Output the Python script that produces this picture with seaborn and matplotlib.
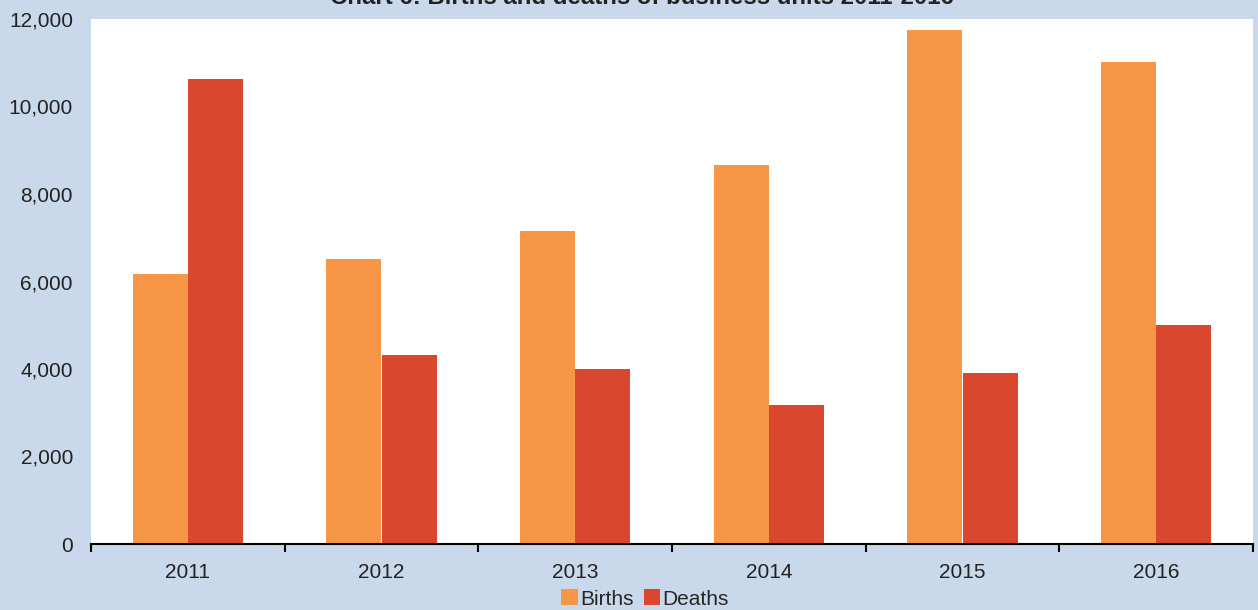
import matplotlib.pyplot as plt
import numpy as np
import pandas as pd
import seaborn as sns

years = ["2011", "2012", "2013", "2014", "2015", "2016"]
births = [6170, 6510, 7150, 8660, 11750, 11020]
deaths = [10630, 4320, 4000, 3180, 3910, 5010]

BG = "#C9D8EA"


def main():
    sns.set_style("white")
    plt.rcParams["font.family"] = ["Liberation Sans", "DejaVu Sans"]

    df = pd.DataFrame({
        "year": years * 2,
        "value": births + deaths,
        "type": ["Births"] * len(years) + ["Deaths"] * len(years),
    })

    fig = plt.figure(figsize=(12.58, 6.10), dpi=100, facecolor=BG)
    ax = fig.add_axes([91 / 1258, 1 - 544 / 610, (1253 - 91) / 1258, (544 - 19) / 610])

    sns.barplot(data=df, x="year", y="value", hue="type",
                palette=["#F79646", "#D9472F"], width=0.57,
                saturation=1, ax=ax, edgecolor="none", linewidth=0)

    ax.set_xlim(-0.5, 5.5)
    ax.set_ylim(0, 12000)
    ax.set_yticks(np.arange(0, 12001, 2000))
    ax.set_yticklabels([f"{v:,}" for v in range(0, 12001, 2000)])
    ax.set_xticks(range(len(years)))
    ax.set_xticks(np.arange(-0.5, 6, 1), minor=True)
    ax.tick_params(axis="x", which="major", bottom=False, length=0, pad=14,
                   labelsize=15, colors="#222222")
    ax.tick_params(axis="x", which="minor", bottom=True, length=6, width=1.5,
                   direction="out", color="black")
    ax.tick_params(axis="y", left=False, length=0, pad=13, labelsize=15, colors="#222222")
    ax.set_xlabel("")
    ax.set_ylabel("")

    for side in ["top", "right", "left"]:
        ax.spines[side].set_visible(False)
    ax.spines["bottom"].set_color("black")
    ax.spines["bottom"].set_linewidth(1.5)

    ax.legend(loc="center", bbox_to_anchor=(645 / 1258, 1 - 599 / 610),
              bbox_transform=fig.transFigure, ncol=2, frameon=False,
              fontsize=15, handlelength=0.8, handleheight=0.8,
              handletextpad=0.1, columnspacing=0.5, borderaxespad=0)

    fig.text(642 / 1258, 1 - 4 / 610, "Chart 6: Births and deaths of business units 2011-2016",
             ha="center", va="baseline", fontsize=17.3, fontweight="bold", color="#222222")

    plt.savefig("out.png", dpi=100, facecolor=BG)


if __name__ == "__main__":
    main()
